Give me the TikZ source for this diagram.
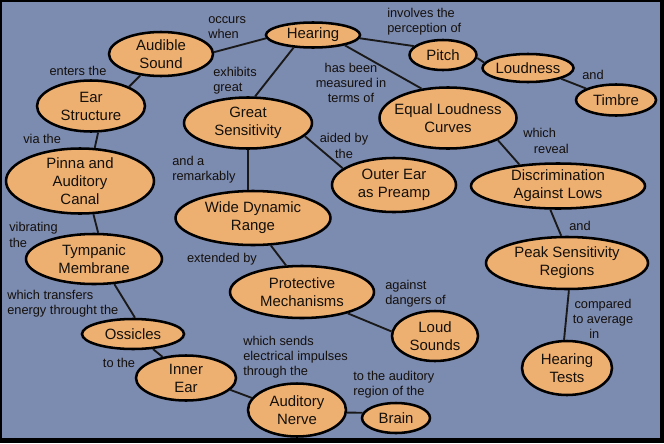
\documentclass[tikz,border=0pt]{standalone}
\usepackage{fontspec}
\setmainfont{Liberation Sans}
\usetikzlibrary{shapes.geometric}
\definecolor{bgc}{RGB}{124,139,176}
\definecolor{orng}{RGB}{238,176,112}
\definecolor{txt}{RGB}{20,16,12}
\tikzset{
  con/.style 2 args={ellipse, draw=black, line width=1.9pt, fill=orng, inner sep=0pt,
    minimum width=#1*0.75pt, minimum height=#2*0.75pt},
  ct/.style={align=center, text=txt, inner sep=0pt, font=\fontsize{11.2pt}{13.5pt}\selectfont},
  lk/.style={text=txt, inner sep=0pt, font=\fontsize{9.6pt}{11.4pt}\selectfont},
  edge/.style={draw=black!90, line width=1.4pt}
}
\begin{document}
\begin{tikzpicture}[x=0.75pt,y=-0.75pt]
\useasboundingbox (0,0) rectangle (664,443);
\fill[black] (0,0) rectangle (664,443);
\fill[bgc] (2,2) rectangle (660,438);

% concepts
\node[con={94}{25}, label={[ct]center:Hearing}] (hear) at (313,35) {};
\node[con={104}{44}, label={[ct]center:Audible\\Sound}] (aud) at (161,54) {};
\node[con={108}{51}, label={[ct]center:Ear\\Structure}] (ear) at (91,106) {};
\node[con={128}{51}, label={[ct]center:Great\\Sensitivity}] (gs) at (248,123) {};
\node[con={67}{30}, label={[ct]center:Pitch}] (pitch) at (443,55) {};
\node[con={91}{28}, label={[ct]center:Loudness}] (loud) at (528,68) {};
\node[con={80}{31}, label={[ct]center:Timbre}] (timbre) at (616,100) {};
\node[con={137}{61}, label={[ct]center:Equal Loudness\\Curves}] (elc) at (448,118) {};
\node[con={148}{65}, label={[ct]center:Pinna and\\Auditory\\Canal}] (pinna) at (80,181) {};
\node[con={155}{54}, label={[ct]center:Wide Dynamic\\Range}] (wdr) at (253,218) {};
\node[con={136}{50}, label={[ct]center:Tympanic\\Membrane}] (tymp) at (94,259) {};
\node[con={124}{54}, label={[ct]center:Outer Ear\\as Preamp}] (outer) at (394,185) {};
\node[con={174}{45}, label={[ct]center:Discrimination\\Against Lows}] (disc) at (558,186) {};
\node[con={162}{52}, label={[ct]center:Peak Sensitivity\\Regions}] (peak) at (567,263) {};
\node[con={144}{52}, label={[ct]center:Protective\\Mechanisms}] (prot) at (302,292) {};
\node[con={86}{50}, label={[ct]center:Loud\\Sounds}] (lsnd) at (435,336) {};
\node[con={90}{54}, label={[ct]center:Hearing\\Tests}] (ht) at (567,368) {};
\node[con={68}{30}, label={[ct]center:Brain}] (brain) at (396,418) {};
\node[con={98}{53}, label={[ct]center:Auditory\\Nerve}] (an) at (297,410) {};
\node[con={100}{45}, label={[ct]center:Inner\\Ear}] (inner) at (186,378) {};
\node[con={102}{30}, label={[ct]center:Ossicles}] (oss) at (133,334) {};

% connectors
\draw[edge] (hear.184) -- (aud.2);
\draw[edge] (hear.213) -- (gs.75);
\draw[edge] (hear.342) -- (elc.132);
\draw[edge] (hear.356) -- (pitch.163);
\draw[edge] (pitch.355) -- (loud.173);
\draw[edge] (loud.342) -- (timbre.159);
\draw[edge] (aud.226) -- (ear.27);
\draw[edge] (ear.285) -- (pinna.66);
\draw[edge] (pinna.292) -- (tymp.81);
\draw[edge] (tymp.309) -- (oss.83);
\draw[edge] (oss.323) -- (inner.138);
\draw[edge] (inner.345) -- (an.165);
\draw[edge] (an.357) -- (brain.171);
\draw[edge] (gs.270) -- (wdr.100);
\draw[edge] (gs.347) -- (outer.162);
\draw[edge] (wdr.303) -- (prot.121);
\draw[edge] (prot.335) -- (lsnd.174);
\draw[edge] (elc.336) -- (disc.151);
\draw[edge] (disc.252) -- (peak.102);
\draw[edge] (peak.274) -- (ht.96);

% linking phrases
\node[lk, align=left, anchor=west] (l1) at (208,28) {occurs\\when};
\node[lk] (l2) at (78,71) {enters the};
\node[lk, anchor=west] (l3) at (23,139) {via the};
\node[lk, align=left, anchor=west] (l4) at (9,235) {vibrating\\the};
\node[lk, align=left, anchor=west] (l5) at (7,304) {which transfers\\energy throught the};
\node[lk] (l6) at (119,363) {to the};
\node[lk, align=left, anchor=west] (l7) at (243,357) {which sends\\electrical impulses\\through the};
\node[lk, align=left, anchor=west] (l8) at (353,385) {to the auditory\\region of the};
\node[lk, align=left, anchor=west] (l9) at (213,81) {exhibits\\great};
\node[lk, align=center] (l10) at (351,83) {has been\\measured in\\terms of};
\node[lk, align=left, anchor=west] (l11) at (387,22) {involves the\\perception of};
\node[lk] (l12) at (593,75) {and};
\node[lk, align=left, anchor=west] (l13) at (172,170) {and a\\remarkably};
\node[lk, align=center] (l14) at (344,146) {aided by\\the};
\node[lk, align=left, anchor=west] (l15) at (523,141) {which\\\hspace*{8pt}reveal};
\node[lk] (l16) at (580,226) {and};
\node[lk, align=center] (l17) at (603,319) {compared\\to average\\in\hspace*{13pt}};
\node[lk] (l18) at (222,259) {extended by};
\node[lk, align=left, anchor=west] (l19) at (385,294) {against\\dangers of};
\end{tikzpicture}
\end{document}
